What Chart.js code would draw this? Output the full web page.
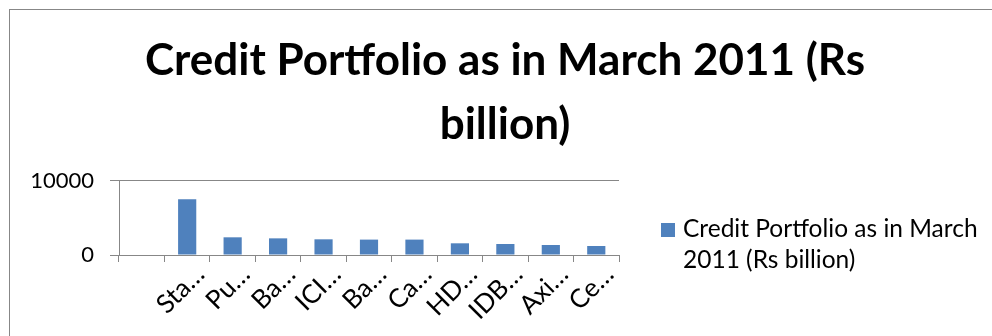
<!DOCTYPE html>
<html>
<head>
<meta charset="utf-8">
<script src="https://cdn.jsdelivr.net/npm/chart.js@4/dist/chart.umd.min.js"></script>
<style>
  html, body { margin: 0; padding: 0; background: #fff; overflow: hidden; width: 992px; height: 336px; }
  #frame {
    position: absolute; left: 9px; top: 9px; width: 992px; height: 340px;
    border: 1px solid #878787; box-sizing: border-box; background: #fff;
  }
  #wrap { position: absolute; left: 0; top: 0; width: 990px; height: 338px; }
  #legend {
    position: absolute; left: 651px; top: 202px; width: 330px;
    font-family: Lato, "Open Sans", sans-serif; font-size: 24.5px; line-height: 31px; color: #000;
  }
  #legend .sw { position: absolute; left: 0; top: 11px; width: 14px; height: 14px; }
  #legend .txt { margin-left: 22px; }
</style>
</head>
<body>
<div id="frame">
  <div id="wrap"><canvas id="credit-chart"></canvas></div>
  <div id="legend"></div>
</div>
<script>
// banks as labelled on the axis (names are clipped there)
const banks = ['', 'Sta…', 'Pu…', 'Ba…', 'ICI…', 'Ba…', 'Ca…', 'HD…', 'IDB…', 'Axi…', 'Ce…'];
const credit = [null, 7530, 2390, 2250, 2120, 2080, 2080, 1580, 1490, 1350, 1220];
const yTicks = [0, 10000];
const seriesName = 'Credit Portfolio as in March 2011 (Rs billion)';
const titleLines = ['Credit Portfolio as in March 2011 (Rs', 'billion)'];

const barColor = '#4f81bd';
const lineColor = '#878787';
const font = 'Lato, "Open Sans", sans-serif';

const chart = new Chart(document.getElementById('credit-chart'), {
  type: 'bar',
  data: {
    labels: banks,
    datasets: [{
      label: seriesName,
      data: credit,
      backgroundColor: barColor,
      barPercentage: 0.4,
      categoryPercentage: 1
    }]
  },
  options: {
    responsive: true,
    maintainAspectRatio: false,
    animation: false,
    plugins: {
      legend: { display: false },
      tooltip: { enabled: false },
      title: {
        display: true,
        text: titleLines,
        color: '#000',
        font: { family: font, size: 44, weight: 'bold', lineHeight: 1.4545 },
        padding: { top: 19, bottom: 24 }
      }
    },
    scales: {
      x: {
        offset: true,
        grid: { offset: true, drawOnChartArea: false, color: lineColor, tickLength: 7, tickWidth: 1 },
        border: { color: lineColor, width: 1 },
        ticks: {
          color: '#000', font: { family: font, size: 26 },
          maxRotation: 45, minRotation: 45, autoSkip: false, padding: -3, labelOffset: 13
        },
        afterFit: s => { s.height = 93; }
      },
      y: {
        min: 0, max: 10000,
        afterBuildTicks: s => { s.ticks = yTicks.map(v => ({ value: v })); },
        grid: { color: lineColor, tickLength: 9 },
        border: { color: lineColor, width: 1 },
        ticks: { color: '#000', font: { family: font, size: 22 }, padding: 16, callback: v => String(v) },
        afterFit: s => { s.width = 109; }
      },
      // empty strip on the right that keeps room for the legend
      side: {
        position: 'right',
        grid: { display: false },
        border: { display: false },
        ticks: { display: false },
        afterFit: s => { s.width = 381; }
      }
    }
  }
});

// legend beside the plot, built from the dataset
const ds = chart.data.datasets[0];
document.getElementById('legend').innerHTML =
  '<span class="sw" style="background:' + ds.backgroundColor + '"></span><div class="txt">' + ds.label + '</div>';
</script>
</body>
</html>
